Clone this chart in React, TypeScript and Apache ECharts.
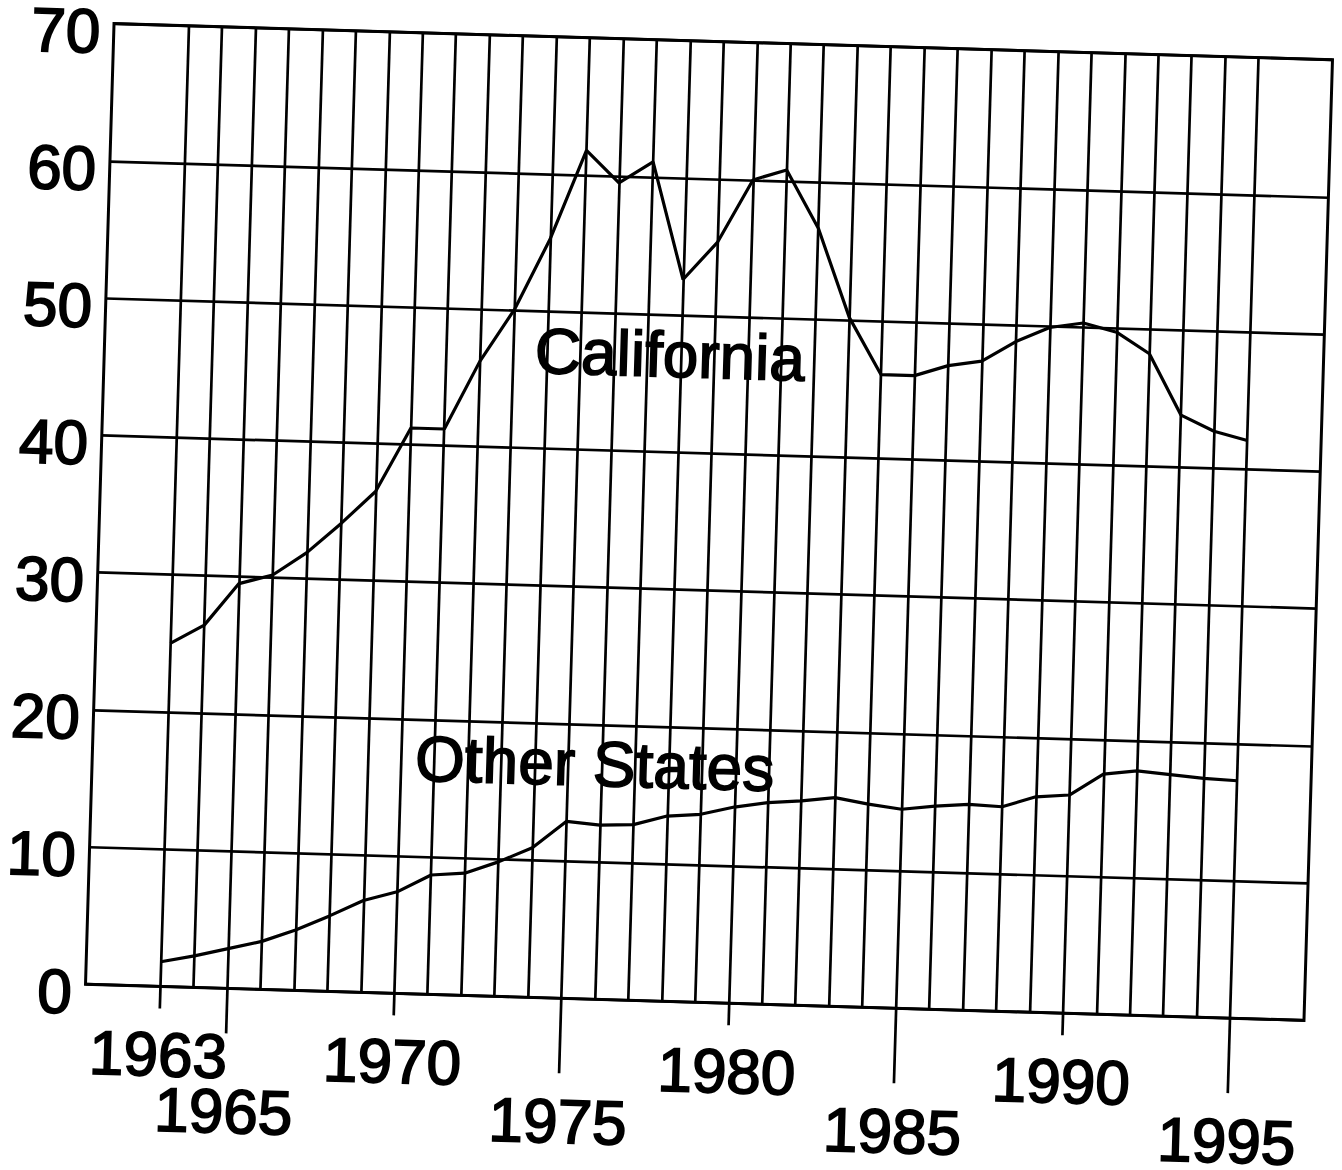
import React, { useEffect, useRef } from "react";
import * as echarts from "echarts";

// ---- data ----
const years = [
  1963, 1964, 1965, 1966, 1967, 1968, 1969, 1970, 1971, 1972, 1973,
  1974, 1975, 1976, 1977, 1978, 1979, 1980, 1981, 1982, 1983, 1984,
  1985, 1986, 1987, 1988, 1989, 1990, 1991, 1992, 1993, 1994, 1995,
];
const california = [
  25.0, 26.4, 29.5, 30.2, 31.9, 34.1, 36.5, 41.2, 41.2, 46.2, 50.1,
  55.3, 61.8, 59.5, 61.1, 52.6, 55.4, 60.0, 60.8, 56.6, 50.2, 46.1,
  46.1, 46.9, 47.3, 48.8, 49.9, 50.3, 49.7, 48.2, 43.8, 42.7, 42.1,
];
const otherStates = [
  1.8, 2.3, 2.9, 3.5, 4.4, 5.5, 6.7, 7.4, 8.7, 8.9, 9.8,
  10.9, 12.9, 12.7, 12.8, 13.5, 13.7, 14.3, 14.7, 14.9, 15.2, 14.8,
  14.5, 14.8, 15.0, 14.9, 15.7, 15.9, 17.5, 17.8, 17.6, 17.4, 17.3,
];
const upperRowYears = [1963, 1970, 1980, 1990];
const middleTickYears = [1965];
const lowerRowYears = [1975, 1985, 1995];
const seriesNames = ["California", "Other States"];

const X_MIN = 1960.77;
const X_MAX = 1997.21;

const FONT = "'Liberation Sans', Arial, Helvetica, sans-serif";
const BLACK = "#000";

export default function App() {
  const ref = useRef<HTMLDivElement>(null);

  useEffect(() => {
    if (!ref.current) return;
    const chart = echarts.init(ref.current, null, {
      renderer: "svg",
      width: 1342,
      height: 1170,
    });

    const lineStyle = { color: BLACK, width: 2.7 };
    const labelBase = {
      fontSize: 62,
      fontWeight: "normal" as const,
      fontFamily: FONT,
      color: BLACK,
      textBorderColor: BLACK,
      textBorderWidth: 1.8,
      formatter: (v: number) => String(Math.round(v)),
    };
    const xLabel = { ...labelBase, verticalAlign: "middle" as const, lineHeight: 44 };
    const xBase = {
      type: "value" as const,
      min: X_MIN,
      max: X_MAX,
      position: "bottom" as const,
      axisLine: { show: false },
      splitLine: { show: false },
    };

    chart.setOption({
      animation: false,
      backgroundColor: "#fff",
      grid: {
        left: 99.5,
        top: 41.5,
        width: 1219,
        height: 961,
        show: true,
        borderColor: BLACK,
        borderWidth: 3,
        backgroundColor: "transparent",
      },
      xAxis: [
        {
          ...xBase,
          axisTick: { show: false, customValues: years },
          axisLabel: { show: false },
          splitLine: { show: true, lineStyle },
        },
        {
          ...xBase,
          axisTick: { show: true, length: 22, customValues: upperRowYears, lineStyle },
          axisLabel: { ...xLabel, customValues: upperRowYears, margin: 68 },
        },
        {
          ...xBase,
          axisTick: { show: true, length: 45, customValues: middleTickYears, lineStyle },
          axisLabel: { ...xLabel, customValues: middleTickYears, margin: 123 },
        },
        {
          ...xBase,
          axisTick: { show: true, length: 75, customValues: lowerRowYears, lineStyle },
          axisLabel: { ...xLabel, customValues: lowerRowYears, margin: 123 },
        },
      ],
      yAxis: {
        type: "value",
        min: 0,
        max: 70,
        interval: 10,
        axisLine: { show: false },
        axisTick: { show: false },
        splitLine: { show: true, lineStyle },
        axisLabel: {
          ...labelBase,
          margin: 13.5,
          verticalAlign: "top",
          lineHeight: 16,
        },
      },
      series: [
        {
          name: seriesNames[0],
          type: "line",
          xAxisIndex: 0,
          data: years.map((y, i) => [y, california[i]]),
          symbol: "none",
          lineStyle: { color: BLACK, width: 3.2 },
          z: 5,
        },
        {
          name: seriesNames[1],
          type: "line",
          xAxisIndex: 0,
          data: years.map((y, i) => [y, otherStates[i]]),
          symbol: "none",
          lineStyle: { color: BLACK, width: 3.2 },
          z: 5,
        },
      ],
      graphic: [
        {
          type: "text",
          x: 665,
          y: 356,
          z: 10,
          style: {
            text: seriesNames[0],
            fontSize: 64,
            fontFamily: FONT,
            fill: BLACK,
            stroke: BLACK,
            lineWidth: 1.6,
            align: "center",
            verticalAlign: "middle",
          },
        },
        {
          type: "text",
          x: 602,
          y: 767,
          z: 10,
          style: {
            text: seriesNames[1],
            fontSize: 64,
            fontFamily: FONT,
            fill: BLACK,
            stroke: BLACK,
            lineWidth: 1.6,
            align: "center",
            verticalAlign: "middle",
          },
        },
      ],
    });

    return () => chart.dispose();
  }, []);

  return (
    <div
      style={{
        position: "absolute",
        left: 0,
        top: 0,
        width: 1342,
        height: 1170,
        overflow: "hidden",
        background: "#fff",
      }}
    >
      <div
        ref={ref}
        style={{
          width: 1342,
          height: 1170,
          transform: "rotate(1.7deg)",
          transformOrigin: "709px 522px",
        }}
      />
    </div>
  );
}
